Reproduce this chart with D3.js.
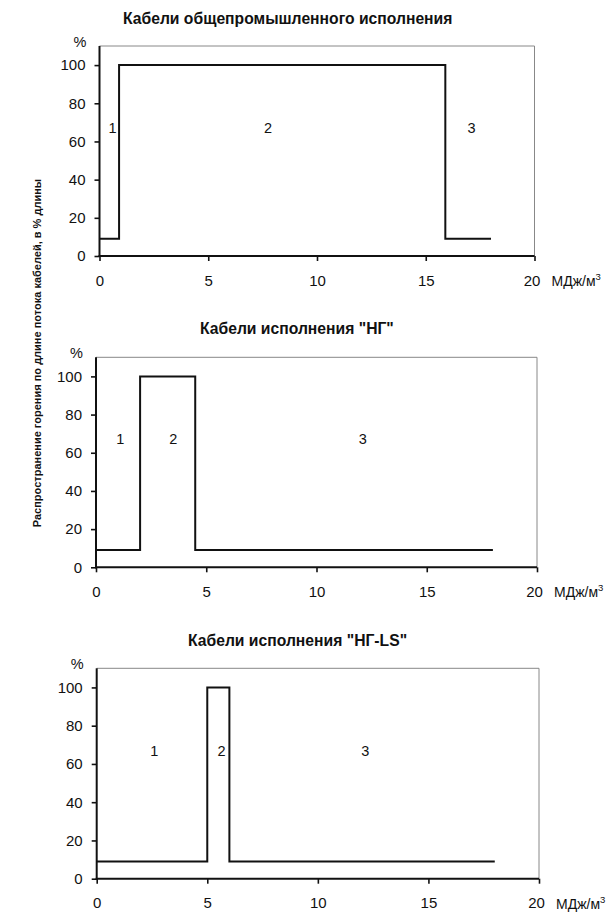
<!DOCTYPE html>
<html><head><meta charset="utf-8">
<script src="https://cdn.jsdelivr.net/npm/d3@7"></script>
<style>
body{margin:0;background:#fff;}
text{font-family:"Liberation Sans",Arial,sans-serif;fill:#111;}
</style></head>
<body><svg id="c" width="611" height="913"></svg>
<script>
const panelTitles = ["Кабели общепромышленного исполнения", "Кабели исполнения \"НГ\"", "Кабели исполнения \"НГ-LS\""];
const yAxisTitle = "Распространение горения по длине потока кабелей, в % длины";
const xUnit = "МДж/м";
const xTicks = [0, 5, 10, 15, 20];
const yTicks = [0, 20, 40, 60, 80, 100];
const stepX1 = [0, 0.9, 15.9, 18];
const stepY1 = [9, 100, 9, 9];
const stepX2 = [0, 2, 4.5, 18];
const stepY2 = [9, 100, 9, 9];
const stepX3 = [0, 5, 6, 18];
const stepY3 = [9, 100, 9, 9];
const zoneNames = ["1", "2", "3"];
const zoneX1 = [0.6, 7.75, 17.1];
const zoneX2 = [1.1, 3.5, 12.1];
const zoneX3 = [2.6, 5.65, 12.15];
const zoneY = [67, 67, 67];

const svg = d3.select("#c");
const layout = [
  {l: 99.5, r: 534.5, t: 46, b: 256, tx: 123, ty: 24},
  {l: 96, r: 537, t: 357.3, b: 567.3, tx: 200, ty: 334},
  {l: 96.7, r: 539, t: 668.3, b: 878.7, tx: 188, ty: 646}
];
const steps = [[stepX1, stepY1], [stepX2, stepY2], [stepX3, stepY3]];
const zones = [zoneX1, zoneX2, zoneX3];

layout.forEach((L, i) => {
  const x = d3.scaleLinear().domain([0, 20]).range([L.l, L.r]);
  const y = d3.scaleLinear().domain([0, 110]).range([L.b, L.t]);
  const g = svg.append("g");
  g.append("text").attr("x", L.tx).attr("y", L.ty)
    .style("font-size", "15.7px").style("font-weight", "bold").text(panelTitles[i]);
  g.append("path").attr("d", `M${L.l},${L.t}H${L.r}V${L.b}`)
    .attr("fill", "none").attr("stroke", "#888").attr("stroke-width", 1);
  const ax = g.append("g").attr("transform", `translate(0,${L.b})`)
    .call(d3.axisBottom(x).tickValues(xTicks).tickSize(5).tickPadding(14));
  const ay = g.append("g").attr("transform", `translate(${L.l},0)`)
    .call(d3.axisLeft(y).tickValues(yTicks).tickSize(5).tickPadding(9));
  [ax, ay].forEach(a => {
    a.select(".domain").remove();
    a.selectAll("line").attr("stroke", "#111").attr("stroke-width", 1.6);
    a.selectAll("text").style("font-size", "15px").attr("fill", "#111")
      .style("font-family", "'Liberation Sans',Arial,sans-serif");
  });
  ax.selectAll(".tick text").filter(d => d === 20).attr("dx", -3);
  g.append("line").attr("x1", L.l).attr("x2", L.l).attr("y1", L.t).attr("y2", L.b + 1)
    .attr("stroke", "#111").attr("stroke-width", 2);
  g.append("line").attr("x1", L.l - 1).attr("x2", L.r).attr("y1", L.b).attr("y2", L.b)
    .attr("stroke", "#111").attr("stroke-width", 2);
  g.append("text").attr("x", L.l - 13).attr("y", L.t + 1).attr("text-anchor", "end")
    .style("font-size", "14.5px").text("%");
  const u = g.append("text").attr("x", L.r + 17).attr("y", L.b + 30)
    .style("font-size", "14px").text(xUnit);
  u.append("tspan").attr("dy", -6).style("font-size", "9.5px").text("3");
  const [sx, sy] = steps[i];
  const pts = sx.map((v, k) => [v, sy[k]]);
  g.append("path").datum(pts)
    .attr("d", d3.line().x(d => x(d[0])).y(d => y(d[1])).curve(d3.curveStepAfter))
    .attr("fill", "none").attr("stroke", "#111").attr("stroke-width", 2);
  zones[i].forEach((zx, k) => {
    g.append("text").attr("x", x(zx)).attr("y", y(zoneY[k]) + 5).attr("text-anchor", "middle")
      .style("font-size", "14.5px").text(zoneNames[k]);
  });
});

svg.append("text").attr("transform", "translate(41,353) rotate(-90)")
  .attr("text-anchor", "middle").style("font-size", "11px").style("font-weight", "bold")
  .text(yAxisTitle);
</script></body></html>
